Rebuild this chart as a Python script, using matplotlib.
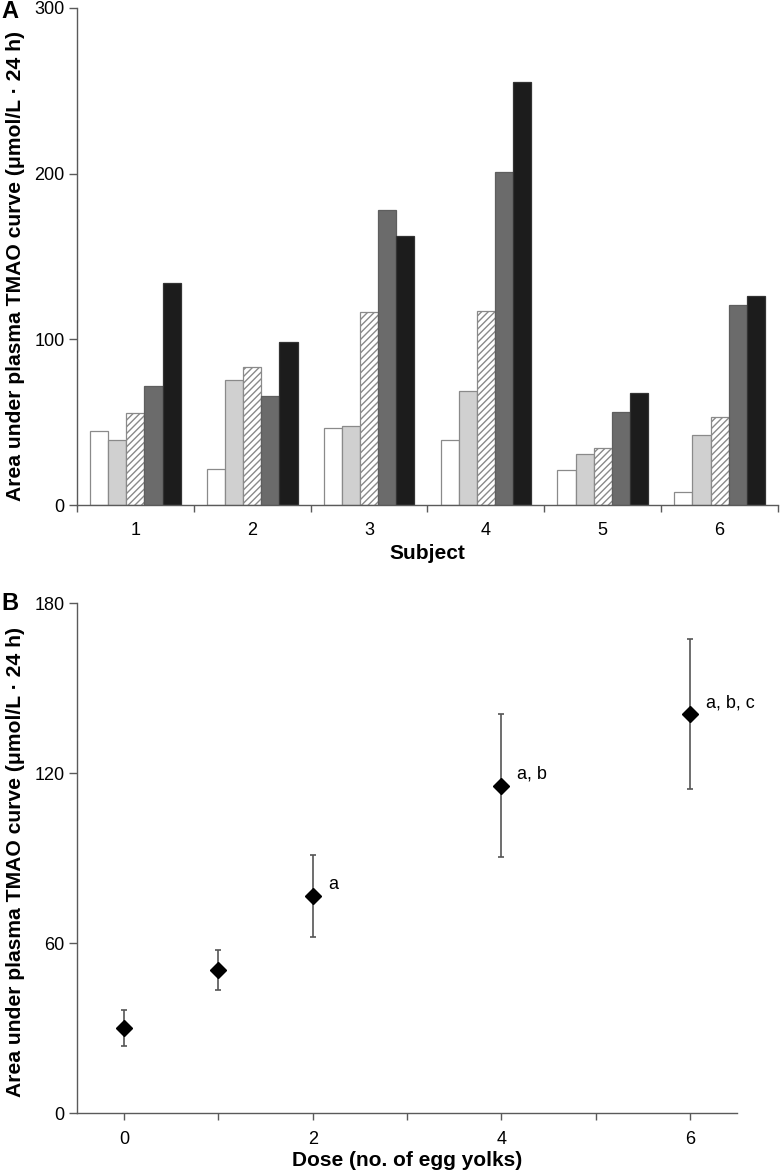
import matplotlib
matplotlib.use("Agg")
import matplotlib.pyplot as plt
import numpy as np

plt.rcParams['font.family'] = ['Liberation Sans', 'DejaVu Sans']
plt.rcParams['hatch.linewidth'] = 1.0

# ---- Panel A data ----
subjects = ['1', '2', '3', '4', '5', '6']
dose0 = [44.7, 21.7, 46.7, 39.2, 21.1, 7.7]
dose1 = [39.4, 75.6, 47.9, 69.0, 30.8, 42.4]
dose2 = [55.3, 83.5, 116.5, 116.9, 34.6, 53.1]
dose4 = [71.8, 66.0, 178.2, 201.0, 56.3, 120.9]
dose6 = [134.0, 98.4, 162.2, 255.5, 67.4, 126.1]
yticks_a = [0, 100, 200, 300]

# ---- Panel B data ----
doses = [0, 1, 2, 4, 6]
auc_mean = [30.0, 50.5, 76.6, 115.5, 140.7]
auc_err = [6.4, 7.2, 14.4, 25.3, 26.5]
sig_labels = ['', '', 'a', 'a, b', 'a, b, c']
sig_y = [None, None, 80.8, 119.6, 144.7]
xticks_b = [0, 1, 2, 3, 4, 5, 6]
xticklabels_b = ['0', '', '2', '', '4', '', '6']
yticks_b = [0, 60, 120, 180]

spine_col = '#5a5a5a'
edge_col = '#8a8a8a'
ylab = 'Area under plasma TMAO curve (\u03bcmol/L \u00b7 24 h)'

fig = plt.figure(figsize=(7.8, 11.71), dpi=100)

# ---------------- Panel A ----------------
axA = fig.add_axes([77/780, 1 - 505/1171, (778 - 77)/780, (505 - 8)/1171])
x = np.arange(1, 7)
w = 0.155
series = [dose0, dose1, dose2, dose4, dose6]
styles = [
    dict(color='white', edgecolor=edge_col),
    dict(color='#d0d0d0', edgecolor=edge_col),
    dict(color='white', edgecolor=edge_col, hatch='/////'),
    dict(color='#6b6b6b', edgecolor='#5e5e5e'),
    dict(color='#1c1c1c', edgecolor='#333333'),
]
for i, (vals, st) in enumerate(zip(series, styles)):
    axA.bar(x + (i - 2) * w, vals, width=w, linewidth=0.9, **st)

axA.set_xlim(0.5, 6.5)
axA.set_ylim(0, 300)
axA.set_yticks(yticks_a)
axA.set_xticks(x)
axA.set_xticklabels(subjects)
axA.set_xticks(np.arange(0.5, 7.0, 1.0), minor=True)
axA.tick_params(axis='x', which='major', length=0, pad=12, labelsize=13)
axA.tick_params(axis='x', which='minor', length=5, width=1, color=spine_col, direction='out')
axA.tick_params(axis='y', length=6, width=1, color=spine_col, labelsize=13, pad=3)
for s in ['top', 'right']:
    axA.spines[s].set_visible(False)
for s in ['left', 'bottom']:
    axA.spines[s].set_color(spine_col)
    axA.spines[s].set_linewidth(1.0)
axA.set_xlabel('Subject', fontsize=15, fontweight='bold', labelpad=4)
axA.set_ylabel(ylab, fontsize=15.2, fontweight='bold')
axA.yaxis.set_label_coords((25 - 77) / 701, (505 - 266) / 497)
fig.text(1/780, 1 - 11/1171, 'A', fontsize=17, fontweight='bold', ha='left', va='center')

# ---------------- Panel B ----------------
axB = fig.add_axes([77/780, 1 - 1113/1171, (737 - 77)/780, (1113 - 603)/1171])
axB.errorbar(doses, auc_mean, yerr=auc_err, fmt='D', color='black', markersize=8,
             ecolor='#555555', elinewidth=1.2, capsize=2.5, capthick=1.2)
for d, lab, yy in zip(doses, sig_labels, sig_y):
    if lab:
        axB.text(d + 0.17, yy, lab, fontsize=13, ha='left', va='center')

axB.set_xlim(-0.5, 6.5)
axB.set_ylim(0, 180)
axB.set_yticks(yticks_b)
axB.set_xticks(xticks_b)
axB.set_xticklabels(xticklabels_b)
axB.tick_params(axis='x', length=5, width=1, color=spine_col, labelsize=13, pad=8)
axB.tick_params(axis='y', length=6, width=1, color=spine_col, labelsize=13, pad=3)
for s in ['top', 'right']:
    axB.spines[s].set_visible(False)
for s in ['left', 'bottom']:
    axB.spines[s].set_color(spine_col)
    axB.spines[s].set_linewidth(1.0)
axB.set_xlabel('Dose (no. of egg yolks)', fontsize=15, fontweight='bold', labelpad=2)
axB.set_ylabel(ylab, fontsize=15.2, fontweight='bold')
axB.yaxis.set_label_coords((25 - 77) / 660, (1113 - 862) / 510)
fig.text(1/780, 1 - 603/1171, 'B', fontsize=17, fontweight='bold', ha='left', va='center')

fig.savefig('out.png', dpi=100)
